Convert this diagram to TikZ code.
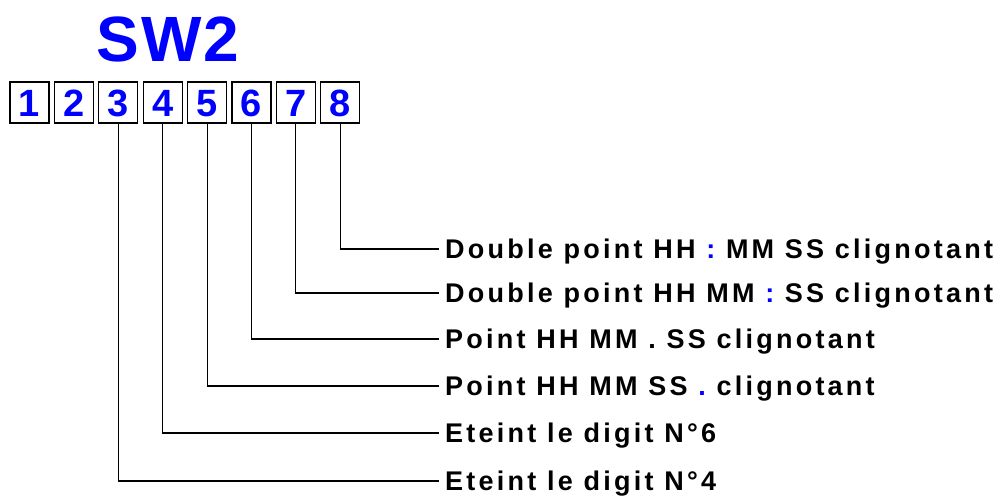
\documentclass[tikz,border=0pt]{standalone}
\usepackage{fontspec}
\setmainfont{Liberation Sans}
\newfontfamily\lblfont[LetterSpace=12]{Liberation Sans}
\newfontfamily\titlefont[LetterSpace=3]{Liberation Sans}
\definecolor{swblue}{RGB}{0,0,255}
\begin{document}
\begin{tikzpicture}[x=1pt,y=-1pt,
  digitbox/.style={draw=black,line width=1.3pt,minimum width=39pt,minimum height=41pt,inner sep=0pt,
    font=\fontsize{38}{38}\selectfont\bfseries,text=swblue,text height=27pt,text depth=0pt},
  lbl/.style={anchor=west,inner xsep=6pt,inner ysep=0pt,font=\lblfont\fontsize{27}{27}\selectfont\bfseries,
    text height=19.4pt,text depth=0pt},
  conn/.style={draw=black,line width=1.1pt}]
\useasboundingbox (0,0) rectangle (1000,496);
\fill[white] (0,0) rectangle (1000,496);
\node[font=\titlefont\fontsize{64}{64}\selectfont\bfseries,text=swblue,inner sep=0pt,text height=46pt,text depth=0pt] (title) at (168,38.5) {SW2};
\foreach \i in {1,...,8}{
  \node[digitbox] (b\i) at ({29.5+44.4*(\i-1)},102.5) {\i};
}
\node[lbl] (t8) at (439,249) {Double point HH \textcolor{swblue}{:} MM SS clignotant};
\node[lbl] (t7) at (439,293) {Double point HH MM \textcolor{swblue}{:} SS clignotant};
\node[lbl] (t6) at (439,339) {Point HH MM . SS clignotant};
\node[lbl] (t5) at (439,386) {Point HH MM SS \textcolor{swblue}{.} clignotant};
\node[lbl] (t4) at (439,433) {Eteint le digit N°6};
\node[lbl] (t3) at (439,481) {Eteint le digit N°4};
\foreach \i in {3,...,8}{
  \draw[conn] (b\i.south) |- (t\i.west);
}
\end{tikzpicture}
\end{document}
